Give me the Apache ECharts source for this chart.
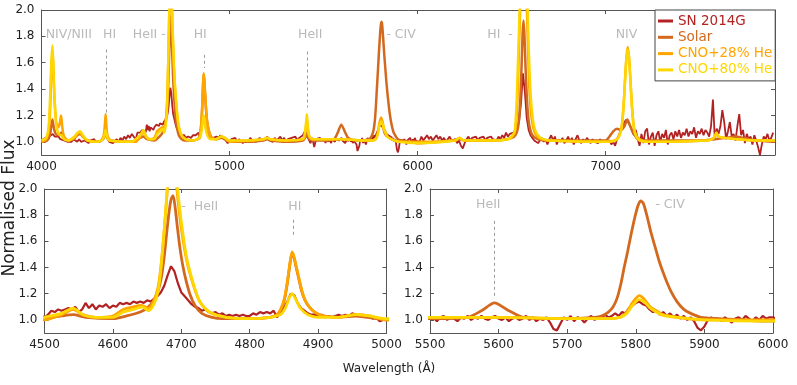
<!DOCTYPE html>
<html>
<head>
<meta charset="utf-8">
<script src="https://cdn.jsdelivr.net/npm/echarts@6/dist/echarts.min.js"></script>
<style>
  html, body { margin: 0; padding: 0; background: #fff; }
  #chart { width: 797px; height: 385px; }
</style>
</head>
<body>
<div id="chart"></div>
<script>
// SN 2014G observed spectrum, read off the figure on regular wavelength grids
// 4000-4490 every 10 A
const sn4000 = [
  1.01,1.02,1.03,1.02,1.04,1.05,1.06,1.04,1.03,1.04,
  1.02,1.03,1.01,1.02,1.00,1.01,1.00,1.02,1.01,1.00,
  1.02,1.00,0.99,1.01,1.00,0.99,1.01,1.00,1.02,1.00,
  1.01,1.00,1.02,1.04,1.07,1.03,1.00,1.01,0.99,1.00,
  1.02,1.00,1.03,1.01,1.04,1.02,1.05,1.03,1.06,1.04
];
// 4500-4995 every 5 A
const sn4500 = [
  1.02,1.04,1.07,1.06,1.08,1.07,1.08,1.09,1.08,1.10,
  1.06,1.08,1.13,1.09,1.12,1.08,1.11,1.10,1.12,1.09,
  1.11,1.10,1.13,1.12,1.13,1.12,1.14,1.13,1.14,1.13,
  1.15,1.14,1.16,1.18,1.21,1.26,1.34,1.41,1.37,1.28,
  1.21,1.18,1.15,1.12,1.10,1.09,1.07,1.08,1.06,1.05,
  1.06,1.04,1.05,1.03,1.04,1.03,1.04,1.03,1.04,1.03,
  1.03,1.05,1.04,1.06,1.05,1.06,1.05,1.07,1.02,1.06,
  1.09,1.14,1.20,1.19,1.13,1.09,1.07,1.05,1.04,1.04,
  1.03,1.04,1.02,1.03,1.02,1.03,1.04,1.03,1.04,1.03,
  1.05,1.04,1.03,1.04,1.02,1.03,1.01,1.02,0.99,1.00
];
// 5000-5490 every 10 A
const sn5000 = [
  1.00,1.02,1.01,1.03,1.00,1.02,1.01,0.99,1.01,1.02,
  1.00,1.03,1.01,1.02,1.00,1.01,1.03,1.01,1.00,1.02,
  1.04,1.01,1.02,1.00,1.03,1.01,1.02,1.04,1.01,1.03,
  1.00,1.02,1.01,1.03,1.02,1.04,1.01,1.03,1.02,1.05,
  1.08,1.06,1.02,0.99,1.03,0.96,1.02,1.01,1.03,1.01
];
// 5500-5995 every 5 A
const sn5500 = [
  1.01,1.02,0.99,1.02,1.03,1.00,1.02,1.01,0.99,1.02,
  1.01,1.03,1.00,1.02,1.01,1.03,1.01,1.00,1.02,1.03,
  1.01,1.00,1.02,0.99,1.01,1.02,1.00,1.01,1.03,1.00,
  1.02,0.99,1.01,1.00,1.02,0.98,0.93,0.92,0.97,1.02,
  1.00,1.03,0.99,1.02,1.01,0.98,1.01,1.03,1.00,1.02,
  1.01,1.04,1.02,1.03,1.05,1.03,1.06,1.05,1.09,1.11,
  1.13,1.14,1.12,1.11,1.08,1.06,1.07,1.04,1.06,1.03,
  1.05,1.02,1.04,1.01,1.03,1.00,1.02,0.99,0.94,0.92,
  0.95,1.00,1.02,1.00,1.01,0.99,1.02,1.00,0.98,1.01,
  1.02,1.00,1.03,1.01,0.99,1.02,1.00,1.03,1.01,1.02
];
// 6000-7890 every 10 A
const sn6000 = [
  1.02,1.00,1.04,1.01,1.03,1.05,1.02,1.04,1.01,1.03,
  1.05,1.02,1.04,1.01,1.03,1.00,1.02,1.04,1.01,1.00,
  1.02,0.99,1.01,0.97,0.95,0.99,1.02,1.04,1.01,1.03,
  1.02,1.04,1.01,1.03,1.02,1.04,1.01,1.03,1.02,1.04,
  1.02,1.03,1.01,1.04,1.02,1.05,1.03,1.07,1.04,1.06,
  1.05,1.07,1.08,1.11,1.16,1.30,1.52,1.38,1.18,1.09,
  1.05,1.03,1.01,1.02,0.99,1.01,1.03,1.00,1.02,0.98,
  1.02,1.05,1.01,1.04,0.98,1.02,1.00,1.03,0.99,1.01,
  1.04,1.00,1.03,0.98,1.02,1.05,1.01,0.99,1.02,1.00,
  1.03,1.01,0.99,1.02,1.00,1.01,0.99,1.02,1.00,1.01,
  1.00,0.99,1.01,0.98,1.00,0.97,1.02,1.05,1.09,1.12,
  1.15,1.17,1.16,1.12,1.08,1.05,1.09,1.02,0.97,1.06,
  0.99,1.08,1.10,0.98,1.04,1.07,0.97,1.05,1.08,1.00,
  1.06,1.03,1.09,0.98,1.05,1.07,1.02,1.08,1.04,1.09,
  1.03,1.07,1.05,1.10,1.04,1.08,1.06,1.11,1.03,1.08,
  1.06,1.10,1.05,1.09,1.07,1.04,1.12,1.32,1.02,1.10,
  1.06,1.12,1.24,1.15,1.02,1.08,1.15,1.04,1.06,1.01,
  1.12,1.21,1.05,1.09,0.99,1.06,1.02,1.04,0.98,1.05,
  1.01,0.96,0.90,0.98,1.04,1.02,1.06,1.01,1.03,1.07
];

// model spectra as [wavelength, flux]
const solarModel = [
  [4000,1.00],[4030,1.01],[4045,1.05],[4052,1.12],[4058,1.17],[4064,1.12],[4072,1.07],[4085,1.05],
  [4100,1.06],[4106,1.07],[4115,1.04],[4140,1.01],[4170,1.02],[4190,1.05],[4205,1.06],[4220,1.04],
  [4245,1.01],[4300,1.00],[4328,1.02],[4335,1.05],[4341,1.08],[4347,1.04],[4360,1.01],[4480,1.00],
  [4500,1.01],[4525,1.03],[4542,1.04],[4560,1.02],[4600,1.01],[4620,1.03],[4640,1.06],[4652,1.10],
  [4660,1.15],[4666,1.22],[4671,1.33],[4675,1.48],[4679,1.68],[4682,1.82],[4685,1.92],[4688,1.95],
  [4691,1.86],[4694,1.72],[4698,1.55],[4702,1.42],[4707,1.30],[4713,1.19],[4720,1.11],[4730,1.05],
  [4745,1.02],[4760,1.01],[4800,1.01],[4830,1.02],[4840,1.04],[4846,1.08],[4851,1.16],[4855,1.28],
  [4859,1.43],[4862,1.51],[4865,1.47],[4868,1.40],[4872,1.31],[4876,1.22],[4881,1.15],[4887,1.10],
  [4895,1.06],[4907,1.03],[4930,1.02],[4955,1.03],[5000,1.00],[5100,1.00],[5180,1.01],[5200,1.02],
  [5220,1.01],[5300,1.00],[5390,1.01],[5405,1.04],[5411,1.06],[5418,1.03],[5440,1.01],[5500,1.01],
  [5555,1.02],[5575,1.07],[5594,1.13],[5615,1.07],[5636,1.02],[5700,1.01],[5740,1.02],[5750,1.03],
  [5760,1.06],[5767,1.10],[5773,1.17],[5778,1.27],[5783,1.40],[5788,1.52],[5793,1.65],[5798,1.77],
  [5803,1.87],[5807,1.91],[5811,1.89],[5816,1.80],[5822,1.67],[5828,1.56],[5834,1.45],[5840,1.36],
  [5846,1.28],[5852,1.21],[5860,1.14],[5870,1.08],[5880,1.05],[5895,1.02],[5920,1.01],[6000,0.99],
  [6200,1.01],[6225,1.02],[6250,1.01],[6400,1.01],[6500,1.03],[6520,1.05],[6535,1.12],[6545,1.30],
  [6552,1.55],[6558,1.82],[6563,1.92],[6568,1.80],[6574,1.55],[6582,1.30],[6592,1.14],[6610,1.05],
  [6640,1.02],[6700,1.01],[7000,1.01],[7020,1.04],[7040,1.08],[7060,1.10],[7080,1.09],[7100,1.12],
  [7115,1.17],[7130,1.12],[7150,1.06],[7170,1.02],[7200,1.01],[7500,1.01],[7580,1.02],[7640,1.03],
  [7690,1.04],[7730,1.03],[7800,1.01],[7900,1.00]
];
const cno28Model = [
  [4000,1.00],[4025,1.02],[4038,1.08],[4046,1.25],[4052,1.52],[4058,1.70],[4063,1.55],[4069,1.32],
  [4078,1.15],[4088,1.11],[4097,1.14],[4104,1.20],[4110,1.12],[4120,1.04],[4145,1.01],[4175,1.03],
  [4192,1.06],[4205,1.07],[4220,1.04],[4245,1.01],[4300,1.00],[4325,1.02],[4333,1.07],[4338,1.15],
  [4341,1.21],[4345,1.12],[4352,1.04],[4370,1.01],[4480,1.00],[4500,1.00],[4525,1.04],[4542,1.08],
  [4556,1.04],[4575,1.02],[4600,1.03],[4615,1.08],[4630,1.10],[4642,1.11],[4652,1.09],[4660,1.15],
  [4666,1.25],[4670,1.40],[4674,1.62],[4678,1.88],[4681,2.10],[4686,2.50],[4692,2.10],[4695,1.92],
  [4700,1.70],[4708,1.45],[4718,1.26],[4727,1.14],[4741,1.06],[4766,1.02],[4800,1.01],[4830,1.02],
  [4840,1.04],[4846,1.09],[4851,1.17],[4855,1.29],[4859,1.44],[4862,1.52],[4865,1.48],[4868,1.41],
  [4872,1.32],[4876,1.23],[4881,1.15],[4887,1.10],[4895,1.06],[4907,1.03],[4930,1.02],[4955,1.04],
  [4975,1.03],[5000,1.00],[5100,1.01],[5180,1.02],[5200,1.03],[5215,1.02],[5300,1.01],[5390,1.02],
  [5402,1.07],[5408,1.14],[5411,1.17],[5415,1.12],[5422,1.05],[5440,1.02],[5500,1.02],[5600,1.02],
  [5700,1.01],[5760,1.01],[5777,1.02],[5787,1.06],[5795,1.13],[5805,1.185],[5812,1.16],[5821,1.10],
  [5830,1.07],[5840,1.04],[5860,1.02],[5900,1.00],[6000,1.00],[6200,1.01],[6222,1.03],[6245,1.01],
  [6400,1.01],[6480,1.02],[6505,1.04],[6520,1.09],[6530,1.30],[6538,1.68],[6545,2.00],[6553,2.50],
  [6563,2.80],[6573,2.50],[6581,2.00],[6588,1.65],[6596,1.35],[6606,1.18],[6620,1.08],[6645,1.03],
  [6700,1.01],[7000,1.00],[7050,1.01],[7070,1.04],[7085,1.12],[7095,1.28],[7103,1.48],[7110,1.64],
  [7117,1.72],[7124,1.64],[7131,1.48],[7139,1.28],[7149,1.12],[7162,1.05],[7180,1.02],[7220,1.00],
  [7540,1.01],[7575,1.03],[7588,1.06],[7600,1.04],[7630,1.03],[7700,1.02],[7800,1.01],[7900,1.01]
];
const cno80Model = [
  [4000,1.01],[4025,1.03],[4038,1.12],[4046,1.35],[4052,1.60],[4058,1.73],[4063,1.58],[4069,1.35],
  [4078,1.14],[4090,1.06],[4105,1.05],[4120,1.02],[4145,1.01],[4175,1.04],[4192,1.07],[4205,1.08],
  [4220,1.05],[4245,1.01],[4300,1.00],[4325,1.02],[4335,1.05],[4341,1.09],[4347,1.05],[4360,1.01],
  [4480,1.00],[4500,1.02],[4525,1.05],[4542,1.09],[4556,1.04],[4575,1.02],[4600,1.02],[4615,1.06],
  [4630,1.08],[4643,1.10],[4652,1.07],[4660,1.12],[4666,1.22],[4670,1.38],[4674,1.62],[4678,1.90],
  [4681,2.15],[4686,2.60],[4692,2.20],[4695,1.98],[4700,1.75],[4708,1.47],[4718,1.27],[4727,1.14],
  [4741,1.06],[4766,1.02],[4800,1.01],[4830,1.02],[4845,1.04],[4852,1.09],[4858,1.17],[4862,1.20],
  [4867,1.16],[4874,1.09],[4885,1.04],[4900,1.02],[4930,1.02],[4955,1.04],[4975,1.03],[5000,1.01],
  [5100,1.01],[5180,1.02],[5200,1.03],[5215,1.02],[5300,1.01],[5390,1.02],[5402,1.08],[5408,1.17],
  [5411,1.21],[5415,1.14],[5422,1.05],[5440,1.02],[5500,1.02],[5600,1.02],[5700,1.01],[5760,1.01],
  [5777,1.02],[5787,1.05],[5795,1.11],[5805,1.155],[5812,1.14],[5821,1.09],[5830,1.06],[5840,1.035],
  [5860,1.02],[5900,1.00],[6000,0.99],[6200,1.01],[6222,1.03],[6245,1.01],[6400,1.01],[6480,1.02],
  [6505,1.05],[6517,1.09],[6526,1.30],[6535,1.68],[6542,2.00],[6550,2.50],[6563,3.00],[6576,2.50],
  [6585,2.00],[6592,1.65],[6600,1.38],[6610,1.20],[6624,1.09],[6645,1.04],[6670,1.02],[6700,1.01],
  [7000,1.00],[7050,1.01],[7070,1.04],[7085,1.11],[7095,1.27],[7103,1.47],[7110,1.63],[7117,1.70],
  [7124,1.63],[7131,1.47],[7139,1.27],[7149,1.11],[7162,1.04],[7180,1.01],[7220,1.00],[7540,1.01],
  [7575,1.03],[7588,1.07],[7600,1.04],[7630,1.03],[7700,1.02],[7800,1.01],[7900,1.01]
];

const seriesNames = ['SN 2014G', 'Solar', 'CNO+28% He', 'CNO+80% He'];
const seriesColors = ['#b22222', '#d2691e', '#ffa500', '#ffd700'];

// line annotations [wavelength, flux, text]
const topLabels = [
  [4145, 1.81, 'NIV/NIII'], [4362, 1.81, 'HI'], [4573, 1.81, 'HeII -'], [4844, 1.81, 'HI'],
  [5429, 1.81, 'HeII'], [5912, 1.81, '- CIV'], [6438, 1.81, 'HI  -'], [7110, 1.81, 'NIV']
];
const leftLabels = [[4727, 1.866, '-  HeII'], [4866, 1.866, 'HI']];
const rightLabels = [[5585, 1.878, 'HeII'], [5850, 1.878, '- CIV']];
// dashed markers [wavelength, flux from, flux to]
const topDashes = [[4345, 1.70, 1.22], [4866, 1.66, 1.56], [5413, 1.685, 1.26]];
const leftDashes = [[4864, 1.765, 1.64]];
const rightDashes = [[5594, 1.757, 1.16]];

function onGrid(start, step, values) {
  return values.map((v, i) => [start + i * step, v]);
}
const sn2014G = [].concat(
  onGrid(4000, 10, sn4000), onGrid(4500, 5, sn4500), onGrid(5000, 10, sn5000),
  onGrid(5500, 5, sn5500), onGrid(6000, 10, sn6000)
);
const spectra = [sn2014G, solarModel, cno28Model, cno80Model];

const FONT = 'DejaVu Sans';
const AXIS_COLOR = '#555';

const chart = echarts.init(document.getElementById('chart'));

const grids = [
  { left: 41.5, top: 10, width: 733.5, height: 145 },
  { left: 44.5, top: 189, width: 342, height: 144 },
  { left: 430, top: 189, width: 343, height: 144 }
];
const xRanges = [[4000, 7900, 1000], [4500, 5000, 100], [5500, 6000, 100]];

const xAxes = [];
const yAxes = [];
grids.forEach((g, i) => {
  const [mn, mx, step] = xRanges[i];
  const base = {
    type: 'value', gridIndex: i, min: mn, max: mx, interval: step,
    axisLine: { show: true, onZero: false, lineStyle: { color: AXIS_COLOR, width: 1 } },
    axisTick: { show: true, inside: true, length: 4, lineStyle: { color: AXIS_COLOR } },
    splitLine: { show: false }
  };
  xAxes.push(Object.assign({}, base, {
    position: 'bottom',
    axisLabel: {
      color: '#222', fontFamily: FONT, fontSize: 12, margin: 6, showMaxLabel: i !== 0,
      formatter: v => String(v)
    }
  }));
  xAxes.push(Object.assign({}, base, { position: 'top', axisLabel: { show: false } }));
  const ybase = {
    type: 'value', gridIndex: i, min: 0.9, max: 2.0, splitNumber: 5,
    axisLine: { show: true, onZero: false, lineStyle: { color: AXIS_COLOR, width: 1 } },
    axisTick: { show: true, inside: true, length: 4, lineStyle: { color: AXIS_COLOR } },
    splitLine: { show: false }
  };
  yAxes.push(Object.assign({}, ybase, {
    position: 'left',
    axisLabel: {
      color: '#222', fontFamily: FONT, fontSize: 12, margin: 7, showMinLabel: false,
      formatter: v => (Math.abs(v * 5 - Math.round(v * 5)) < 1e-6 ? v.toFixed(1) : '')
    }
  }));
  yAxes.push(Object.assign({}, ybase, { position: 'right', axisLabel: { show: false } }));
});

const labelSets = [topLabels, leftLabels, rightLabels];
const dashSets = [topDashes, leftDashes, rightDashes];

const series = [];
grids.forEach((g, i) => {
  spectra.forEach((d, k) => {
    series.push({
      name: seriesNames[k],
      type: 'line',
      xAxisIndex: 2 * i,
      yAxisIndex: 2 * i,
      data: d,
      showSymbol: false,
      smooth: k === 0 ? false : 0.25,
      clip: true,
      z: 2 + k,
      lineStyle: { color: seriesColors[k], width: k === 0 ? (i === 0 ? 1.8 : 2.2) : (i === 0 ? 2.5 : 2.8) },
      itemStyle: { color: seriesColors[k] }
    });
  });
  series.push({
    type: 'scatter',
    xAxisIndex: 2 * i,
    yAxisIndex: 2 * i,
    silent: true,
    symbol: 'rect',
    symbolSize: 1,
    z: 10,
    itemStyle: { color: 'rgba(0,0,0,0)' },
    label: {
      show: true, position: 'inside', formatter: '{b}',
      color: '#a8a8a8', fontFamily: FONT, fontSize: 12.5
    },
    data: labelSets[i].map(l => ({ name: l[2], value: [l[0], l[1]] })),
    markLine: {
      silent: true,
      symbol: ['none', 'none'],
      label: { show: false },
      lineStyle: { type: [3, 3], color: '#999', width: 1 },
      data: dashSets[i].map(s => [{ coord: [s[0], s[1]] }, { coord: [s[0], s[2]] }])
    }
  });
});

chart.setOption({
  animation: false,
  backgroundColor: '#fff',
  textStyle: { fontFamily: FONT },
  grid: grids,
  xAxis: xAxes,
  yAxis: yAxes,
  legend: {
    left: 655, top: 10, orient: 'vertical',
    backgroundColor: '#fff', borderColor: '#444', borderWidth: 1, borderRadius: 0,
    padding: [4, 3, 4, 3], itemGap: 2.3, itemWidth: 15, itemHeight: 3, icon: 'rect',
    textStyle: { fontFamily: FONT, fontSize: 13.5, lineHeight: 13 },
    data: seriesNames.map((n, k) => ({ name: n, textStyle: { color: seriesColors[k] } }))
  },
  graphic: [
    {
      type: 'text', x: 10, y: 208, rotation: Math.PI / 2,
      style: { text: 'Normalised Flux', fill: '#222', font: '17px "DejaVu Sans"', align: 'center', verticalAlign: 'middle' }
    },
    {
      type: 'text', x: 389, y: 369,
      style: { text: 'Wavelength (Å)', fill: '#222', font: '12px "DejaVu Sans"', align: 'center', verticalAlign: 'middle' }
    }
  ],
  series: series
});
</script>
</body>
</html>
